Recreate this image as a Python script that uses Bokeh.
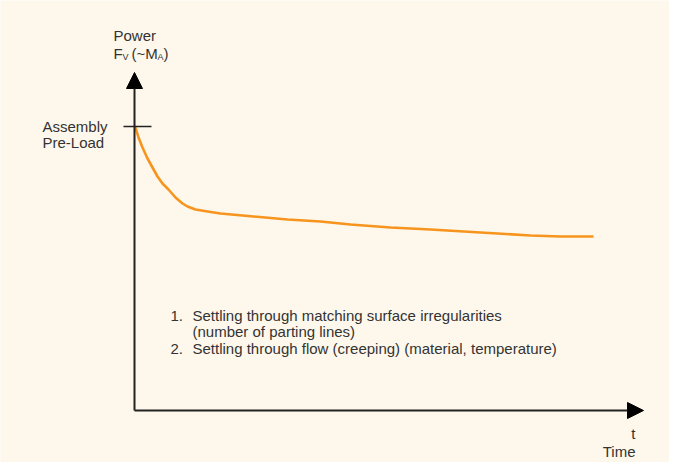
from bokeh.plotting import figure
from bokeh.models import Range1d, Arrow, NormalHead
from bokeh.core.properties import value
from bokeh.embed import file_html
from bokeh.resources import INLINE

# ---- data (time in arbitrary units, force in arbitrary units) ----
time_vals = [0, 1, 4, 8, 13, 18, 23, 28, 34, 41, 48, 53, 61, 73, 86, 119, 153, 186,
             216, 256, 296, 346, 396, 426, 459]
force_vals = [284, 283, 273, 263, 252, 243, 234, 227, 221, 213, 207, 204, 201, 199, 197, 194, 191, 189,
              186, 183, 181, 178, 175, 174, 174]
preload = 284
t_axis_end = 509
f_axis_end = 338

y_title = "Power"
list_numbers = ["1.", "", "2."]
list_lines = ["Settling through matching surface irregularities",
              "(number of parting lines)",
              "Settling through flow (creeping) (material, temperature)"]
preload_label = ["Assembly", "Pre-Load"]
x_labels = ["t", "Time"]

BG = "#FEF8EC"
TXT = "#333333"
FONT = value("Liberation Sans")
ORANGE = "#F7941D"

p = figure(width=669, height=462, x_range=Range1d(-134, 535), y_range=Range1d(-52, 410),
           output_backend="svg", toolbar_location=None, min_border=0,
           background_fill_color=BG, border_fill_color=BG, outline_line_color=None)
p.axis.visible = False
p.grid.visible = False

# curve
p.line(time_vals, force_vals, line_color=ORANGE, line_width=2.6, line_join="round")

# axes with arrow heads
p.add_layout(Arrow(end=NormalHead(size=16, fill_color="black", line_color="black"),
                   x_start=0, y_start=0, x_end=0, y_end=f_axis_end,
                   line_color="#222222", line_width=2))
p.add_layout(Arrow(end=NormalHead(size=16, fill_color="black", line_color="black"),
                   x_start=0, y_start=0, x_end=t_axis_end, y_end=0,
                   line_color="#222222", line_width=2))

# pre-load tick
p.segment(x0=[-11], y0=[preload], x1=[17], y1=[preload], line_color="#222222", line_width=1.3)

def txt(x, y, s, size="15px", align="left", baseline="alphabetic"):
    p.text(x=[x], y=[y], text=[s], text_font=FONT, text_font_size=size,
           text_color=TXT, text_align=align, text_baseline=baseline)

# y-axis title
txt(-21, 410 - 35, y_title)
txt(-21, 410 - 53, "F")
txt(-12, 410 - 56, "V", size="9px")
txt(-3, 410 - 53, "(~M")
txt(23, 410 - 56, "A", size="9px")
txt(29, 410 - 53, ")")

# pre-load label
txt(-92, 410 - 126, preload_label[0])
txt(-92, 410 - 142, preload_label[1])

# list
base = [315, 331, 348]
for n, l, b in zip(list_numbers, list_lines, base):
    if n:
        txt(36, 410 - b, n)
    txt(58, 410 - b, l)

# x-axis labels
txt(501, 410 - 433, x_labels[0], align="right")
txt(501, 410 - 451, x_labels[1], align="right")

open("out.html", "w").write(file_html(p, INLINE))
